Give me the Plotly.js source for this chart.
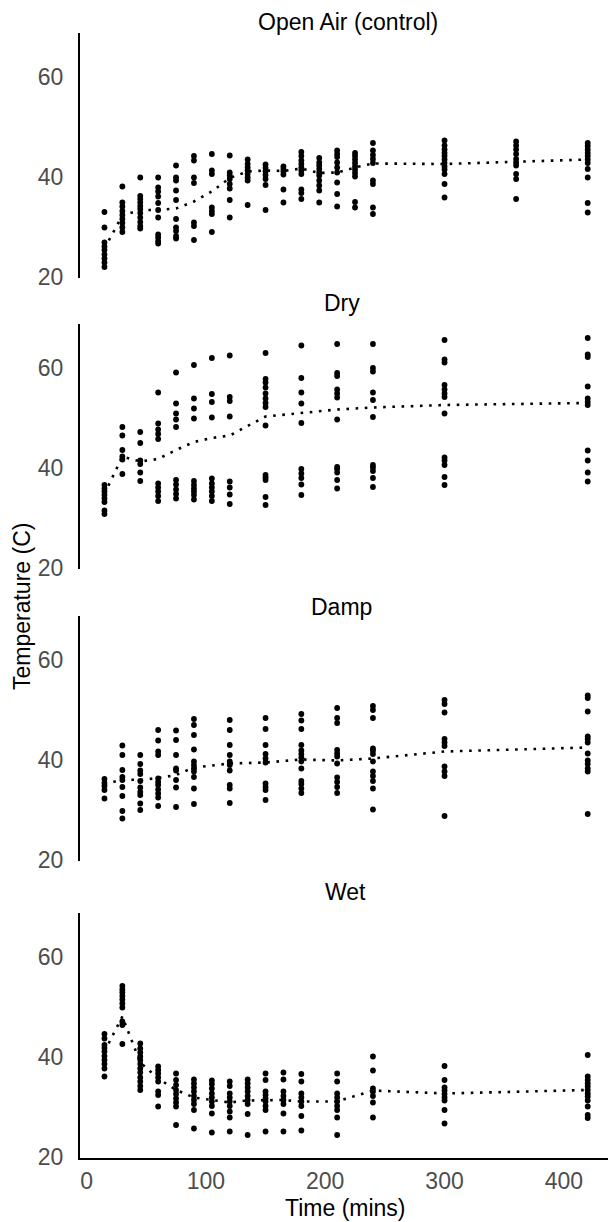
<!DOCTYPE html>
<html>
<head>
<meta charset="utf-8">
<script src="https://cdn.plot.ly/plotly-3.0.1.min.js"></script>
<style>html,body{margin:0;padding:0;background:#fff;}#chart{width:608px;height:1222px;}</style>
</head>
<body>
<div id="chart"></div>
<script>
// ---------------- DATA ----------------
const panelTitles = ["Open Air (control)", "Dry", "Damp", "Wet"];
const xTickVals = [0, 100, 200, 300, 400];
const yTickVals = [20, 40, 60];

const openTimes = [15,30,45,60,75,90,105,120,135,150,165,180,195,210,225,240,300,360,420];
const openVals = [
  [32.9,29.8,26.8,26.0,25.3,24.4,23.6,22.8,21.9],
  [38.0,34.8,34.0,33.1,32.3,31.5,30.7,29.8,28.9],
  [39.8,36.1,35.5,34.8,34.1,33.5,32.7,31.8,30.9,30.1,29.6],
  [39.8,37.8,37.0,36.0,34.7,33.3,31.8,28.4,27.8,27.1,26.6],
  [42.2,39.8,39.2,37.2,35.3,31.5,29.8,29.1,28.1,27.6],
  [44.1,43.2,39.8,38.7,30.8,30.1,27.3],
  [44.5,41.2,40.5,33.8,33.1,32.5,28.9],
  [44.2,40.8,40.2,39.5,38.5,37.6,35.3,31.8],
  [43.4,42.5,41.8,41.2,40.5,39.8,39.2,34.3],
  [42.4,41.7,41.0,40.3,39.5,38.3,33.3],
  [42.0,41.5,41.0,40.4,37.4,34.8],
  [44.9,44.1,43.2,42.5,41.8,41.2,40.5,37.4,36.7,35.5],
  [43.7,42.8,42.2,41.5,40.8,40.2,39.2,38.2,37.2,34.8],
  [45.2,44.5,43.9,42.8,41.8,40.8,38.8,36.5,34.0],
  [44.7,44.1,43.4,42.7,42.0,41.4,40.7,40.0,34.9,33.8],
  [46.7,45.2,44.3,43.5,42.7,39.2,38.5,33.8,32.5],
  [47.2,46.2,45.4,44.7,44.1,43.4,42.7,42.0,41.4,40.5,38.5,35.8],
  [47.0,46.2,45.4,44.5,43.5,42.8,42.2,40.5,39.5,35.5],
  [46.7,46.1,45.4,44.7,44.1,43.4,42.7,41.5,39.8,34.7,32.8]
];
const openMean = [25.6,32.2,33.3,33.3,33.6,35.0,37.0,39.7,41.0,41.2,41.1,41.6,40.7,40.8,41.8,42.6,42.5,43.0,43.4];

const dryTimes = [15,30,45,60,75,90,105,120,150,180,210,240,300,420];
const dryVals = [
  [36.5,35.8,35.2,34.5,33.8,33.1,31.4,30.7],
  [48.1,46.4,43.5,42.2,41.6,38.7],
  [47.1,44.9,41.4,40.7,39.0,37.3],
  [55.0,48.8,47.6,46.7,45.7,36.8,36.0,35.2,34.3,33.3],
  [59.0,52.8,50.8,49.6,48.1,37.5,36.6,35.6,34.7,33.8],
  [60.5,53.8,51.8,49.8,37.3,36.5,35.8,35.2,34.5,33.6],
  [61.9,54.7,53.1,50.0,37.8,36.8,36.0,35.2,34.3,33.3],
  [62.4,54.1,53.3,50.2,37.2,36.0,34.6,32.7],
  [62.9,57.7,57.0,56.0,54.8,53.8,52.9,52.1,48.4,38.5,38.0,37.5,34.1,32.5],
  [64.4,57.9,55.0,52.8,48.9,39.7,38.8,37.9,36.6,34.5],
  [64.7,58.9,58.3,55.6,54.8,54.0,49.6,40.1,39.7,39.0,37.5,35.8],
  [64.7,59.9,59.2,55.0,53.5,50.1,40.5,40.0,39.3,37.9,36.1],
  [65.5,61.6,61.0,56.5,55.6,54.8,54.1,50.8,42.0,41.4,40.5,38.1,36.5],
  [65.9,62.6,62.1,56.2,53.8,53.1,52.5,43.4,41.4,39.0,37.2]
];
const dryMean = [34.7,42.2,41.2,41.7,43.5,45.1,45.9,46.4,50.2,50.9,51.6,52.0,52.5,52.9];

const dampTimes = [15,30,45,60,75,90,120,150,180,210,240,300,420];
const dampVals = [
  [36.1,35.3,34.7,33.9,32.2],
  [42.8,40.9,37.9,36.5,35.9,34.5,32.7,29.7,28.2],
  [40.9,39.1,37.8,37.1,35.7,34.4,33.5,32.9,31.2,29.9],
  [45.9,43.8,41.6,40.9,36.2,35.5,34.9,34.0,33.2,32.4,30.7],
  [45.8,43.9,40.9,38.2,37.8,35.9,34.4,30.5],
  [48.1,46.9,44.9,42.0,39.6,38.9,38.2,37.6,36.5,34.2,31.1],
  [47.9,45.9,42.9,40.9,39.6,38.9,37.8,34.9,34.2,31.3],
  [48.3,46.1,42.9,41.1,40.2,39.4,35.2,34.5,33.9,31.9],
  [49.1,47.8,46.1,42.9,41.8,41.1,40.4,39.6,38.2,35.7,35.1,34.2,33.3],
  [50.3,48.3,47.3,41.9,41.2,40.6,39.2,36.4,35.5,34.5,33.3],
  [50.7,49.9,48.3,42.2,41.8,41.1,39.6,37.6,36.7,35.7,34.2,30.0],
  [51.9,51.1,49.4,44.1,43.4,42.7,38.6,37.6,36.7,28.7],
  [52.8,52.3,49.6,44.6,44.1,43.4,41.2,39.8,39.1,38.2,37.6,29.1]
];
const dampMean = [35.0,36.0,35.9,36.3,36.9,38.4,39.2,39.4,40.0,39.8,40.2,41.6,42.4];

const wetTimes = [15,30,45,60,75,90,105,120,135,150,165,180,210,240,300,420];
const wetVals = [
  [44.5,43.6,42.3,41.7,41.0,40.1,39.3,38.5,37.6,36.0],
  [54.1,53.4,52.8,52.1,51.4,50.6,49.8,47.0,46.3,42.5],
  [42.6,41.6,40.8,40.0,39.3,38.5,37.6,36.8,35.8,35.0,34.1,33.3],
  [38.0,37.3,36.6,35.8,35.0,33.0,32.3,30.0],
  [36.6,35.3,34.3,33.3,32.5,31.6,30.8,30.0,26.3],
  [35.4,34.6,33.8,33.0,32.1,31.3,30.5,29.3,25.6],
  [35.2,34.5,33.6,32.6,31.8,31.0,30.1,28.6,24.8],
  [35.0,34.1,32.6,31.8,31.0,30.1,29.0,27.8,25.0],
  [35.4,34.6,33.8,33.0,32.1,31.3,30.5,28.5,24.3],
  [36.6,35.3,33.0,32.3,31.6,31.0,30.1,29.3,25.0],
  [36.8,35.4,33.0,32.1,31.3,30.5,28.6,25.0],
  [36.5,35.0,32.6,31.8,31.0,30.1,28.1,25.2],
  [36.6,35.0,32.6,31.8,31.0,30.1,29.3,27.8,24.3],
  [40.0,37.2,33.6,33.0,32.1,30.8,27.8],
  [38.1,35.3,33.8,33.2,32.5,31.8,31.2,29.3,26.6],
  [40.3,36.0,35.3,34.6,34.0,33.3,32.6,32.0,31.2,30.0,28.3,27.7]
];
const wetMean = [41.0,48.0,38.8,35.6,33.3,31.8,31.3,30.8,31.2,31.3,31.3,31.0,31.0,33.2,32.6,33.3];

// ---------------- LAYOUT CONSTANTS ----------------
const W = 608, H = 1222, ML = 80;
const panelPx = [[33, 278], [324, 569], [616, 861], [913, 1158]]; // top, bottom in px
const titlePx = [[348, 22], [342, 303], [341, 607], [345, 892]];
const xRange = [-5.5, 437];
const yRange = [19.7, 68.7];
const FONT = "Liberation Sans, Arial, Helvetica, sans-serif";

const panels = [
  {times: openTimes, vals: openVals, mean: openMean},
  {times: dryTimes, vals: dryVals, mean: dryMean},
  {times: dampTimes, vals: dampVals, mean: dampMean},
  {times: wetTimes, vals: wetVals, mean: wetMean}
];

const traces = [];
const layout = {
  width: W, height: H,
  margin: {l: ML, r: 0, t: 0, b: 0, pad: 0},
  paper_bgcolor: "#fff", plot_bgcolor: "#fff",
  showlegend: false,
  font: {family: FONT, color: "#000"},
  annotations: []
};

panels.forEach((p, i) => {
  const n = i + 1;
  const xs = [], ys = [];
  p.times.forEach((t, j) => p.vals[j].forEach(v => { xs.push(t); ys.push(v); }));
  const xa = "x" + (n === 1 ? "" : n), ya = "y" + (n === 1 ? "" : n);
  traces.push({
    type: "scatter", mode: "lines", x: p.times, y: p.mean, xaxis: xa, yaxis: ya,
    line: {color: "#000", width: 2.6, dash: "2.6px,6.6px"}, hoverinfo: "skip"
  });
  traces.push({
    type: "scatter", mode: "markers", x: xs, y: ys, xaxis: xa, yaxis: ya,
    marker: {color: "#000", size: 5.8, line: {width: 0}}
  });
  const isBottom = (n === 4);
  layout["xaxis" + (n === 1 ? "" : n)] = {
    domain: [0, 1], range: xRange, anchor: ya,
    showgrid: false, zeroline: false,
    showline: isBottom, linecolor: "#000", linewidth: 2,
    showticklabels: isBottom, tickvals: xTickVals, ticks: "",
    ticklabelstandoff: 1,
    tickfont: {family: FONT, size: 23, color: "#4d4d4d"}
  };
  const [top, bot] = panelPx[i];
  layout["yaxis" + (n === 1 ? "" : n)] = {
    domain: [1 - bot / H, 1 - top / H], range: yRange, anchor: xa,
    showgrid: false, zeroline: false,
    showline: true, linecolor: "#000", linewidth: 2,
    tickvals: yTickVals, ticks: "", ticklabelstandoff: 10,
    tickfont: {family: FONT, size: 23, color: "#4d4d4d"}
  };
  layout.annotations.push({
    text: panelTitles[i], showarrow: false,
    xref: "paper", yref: "paper",
    x: (titlePx[i][0] - ML) / (W - ML), y: 1 - titlePx[i][1] / H,
    xanchor: "center", yanchor: "middle",
    font: {family: FONT, size: 23, color: "#000"}
  });
});

layout.annotations.push({
  text: "Time (mins)", showarrow: false, xref: "paper", yref: "paper",
  x: (345 - ML) / (W - ML), y: 1 - 1208 / H, xanchor: "center", yanchor: "middle",
  font: {family: FONT, size: 23, color: "#000"}
});
layout.annotations.push({
  text: "Temperature (C)", showarrow: false, xref: "paper", yref: "paper",
  x: (22 - ML) / (W - ML), y: 1 - 607 / H, xanchor: "center", yanchor: "middle",
  textangle: -90,
  font: {family: FONT, size: 23, color: "#000"}
});

Plotly.newPlot("chart", traces, layout, {displayModeBar: false, staticPlot: true});
</script>
</body>
</html>
